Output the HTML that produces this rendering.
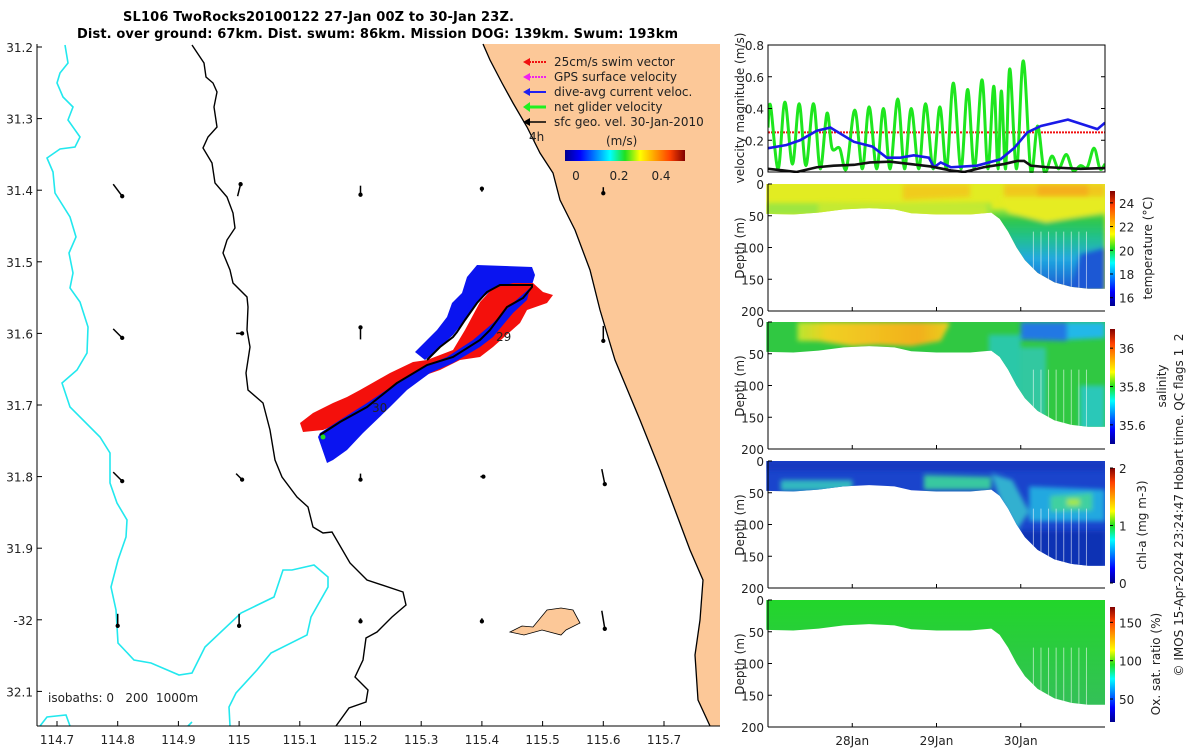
<!DOCTYPE html>
<html><head><meta charset="utf-8"><title>SL106 glider</title>
<style>
html,body{margin:0;padding:0;background:#fff;}
svg{display:block;font-family:"DejaVu Sans","Liberation Sans",sans-serif;}
.t{font-size:12px;fill:#222;}
text{white-space:pre;}
</style></head>
<body>
<svg id="root" width="1200" height="750" viewBox="0 0 1200 750" xmlns="http://www.w3.org/2000/svg">
<defs>
 <linearGradient id="jet" x1="0" x2="1" y1="0" y2="0">
  <stop offset="0" stop-color="#00008f"/><stop offset="0.125" stop-color="#0000ff"/><stop offset="0.375" stop-color="#00ffff"/><stop offset="0.5" stop-color="#20e020"/><stop offset="0.625" stop-color="#ffff00"/><stop offset="0.875" stop-color="#ff4000"/><stop offset="1" stop-color="#800000"/>
 </linearGradient>
 <linearGradient id="jetv" x1="0" x2="0" y1="1" y2="0">
  <stop offset="0" stop-color="#00008f"/><stop offset="0.125" stop-color="#0000ff"/><stop offset="0.375" stop-color="#00ffff"/><stop offset="0.5" stop-color="#20e020"/><stop offset="0.625" stop-color="#ffff00"/><stop offset="0.875" stop-color="#ff4000"/><stop offset="1" stop-color="#800000"/>
 </linearGradient>
 <linearGradient id="tdeep" x1="0" x2="0" y1="0" y2="1">
  <stop offset="0" stop-color="#9ee83a"/><stop offset="0.12" stop-color="#30c848"/><stop offset="0.35" stop-color="#20c090"/><stop offset="0.6" stop-color="#20a8e0"/><stop offset="1" stop-color="#1850d0"/>
 </linearGradient>
 <linearGradient id="sorange" x1="0" x2="1" y1="0" y2="0">
  <stop offset="0" stop-color="#b8e630"/><stop offset="0.2" stop-color="#f0d020"/><stop offset="0.5" stop-color="#f2c020"/><stop offset="0.8" stop-color="#f2b01c"/><stop offset="1" stop-color="#e8d020"/>
 </linearGradient>
 <linearGradient id="odeep" x1="0" x2="0" y1="0" y2="1">
  <stop offset="0" stop-color="#22d62a"/><stop offset="1" stop-color="#34c058"/>
 </linearGradient>
 <filter id="soft" x="-5%" y="-5%" width="110%" height="110%"><feGaussianBlur stdDeviation="2.5"/></filter>
 <clipPath id="velclip"><rect x="768" y="45" width="337" height="128"/></clipPath>
</defs>

<text x="123" y="21" font-size="13" font-weight="bold" textLength="391">SL106 TwoRocks20100122 27-Jan 00Z to 30-Jan 23Z.</text>
<text x="77" y="38" font-size="13" font-weight="bold" textLength="601">Dist. over ground: 67km. Dist. swum: 86km. Mission DOG: 139km. Swum: 193km</text>

<g id="map">
 <path fill="#fcc898" d="M483,44 L490,60 L502,83 L513,103 L527,127 L540,153 L553,173 L560,200 L575,230 L590,270 L600,310 L615,360 L640,420 L660,470 L675,510 L690,550 L703,580 L700,620 L695,655 L698,700 L710,726 L720,726 L720,44 Z"/>
 <path fill="none" stroke="#000" stroke-width="1.3" d="M483,44 L490,60 L502,83 L513,103 L527,127 L540,153 L553,173 L560,200 L575,230 L590,270 L600,310 L615,360 L640,420 L660,470 L675,510 L690,550 L703,580 L700,620 L695,655 L698,700 L710,726"/>
 <path fill="#fcc898" stroke="#000" stroke-width="0.8" d="M510,632 L522,626 L533,627 L547,610 L561,608 L573,610 L580,623 L566,630 L561,635 L542,630 L524,635 Z"/>
 <path fill="none" stroke="#000" stroke-width="1.4" d="M192,45 L204,63 L206,77 L213,83 L217,92 L214,107 L217,127 L208,137 L203,148 L212,163 L215,183 L227,197 L233,213 L235,228 L227,240 L223,253 L230,270 L233,283 L247,297 L248,307 L247,330 L250,347 L246,373 L248,390 L263,403 L270,430 L275,460 L282,477 L297,497 L308,507 L313,527 L323,533 L332,532 L350,563 L367,580 L403,592 L406,605 L392,617 L377,632 L366,638 L363,660 L355,677 L368,690 L366,702 L349,708 L336,726"/>
 <path fill="none" stroke="#22e8ee" stroke-width="1.6" d="M65,45 L68,63 L60,73 L57,83 L63,97 L73,107 L68,120 L80,137 L75,147 L60,149 L47,158 L53,172 L55,193 L70,217 L76,237 L69,253 L73,273 L70,288 L80,302 L88,327 L87,353 L77,370 L62,383 L70,407 L100,437 L110,453 L110,483 L117,503 L127,520 L126,537 L118,560 L111,587 L116,610 L118,643 L134,660 L151,663 L179,675 L192,673 L205,647 L241,613 L274,597 L283,570 L292,570 L314,565 L328,577 L328,587 L311,617 L307,635 L271,653 L257,670 L236,693 L229,707 L230,726"/>
 <path fill="none" stroke="#22e8ee" stroke-width="1.6" d="M40,726 L47,717 L66,715 L70,726 M188,726 L192,722"/>
 <g id="vectors" stroke="#000" stroke-width="1.5" fill="#000"></g>
 <path fill="#0a14f0" d="M415,352 L425,360 L437,350 L453,335 L465,320 L480,300 L493,289 L513,285 L532,285 L535,275 L532,267 L477,265 L467,277 L462,293 L452,303 L447,317 L437,330 L427,340 L420,347 Z"/>
 <path fill="#f4100c" d="M300,423 L313,413 L333,403 L347,397 L360,390 L390,373 L413,362 L427,360 L453,350 L465,330 L480,302 L493,288 L513,283 L533,283 L543,292 L553,295 L547,303 L527,310 L520,323 L493,347 L480,357 L460,360 L440,370 L420,377 L400,383 L390,393 L367,407 L347,420 L323,430 L303,432 Z"/>
 <path fill="#0a14f0" d="M318,437 L327,463 L333,460 L347,450 L363,433 L390,407 L407,390 L430,373 L453,363 L480,347 L493,337 L513,313 L527,300 L530,288 L513,303 L493,323 L473,340 L447,357 L427,365 L397,383 L367,403 L340,420 L320,433 Z"/>
 <path fill="none" stroke="#000" stroke-width="2" d="M320,435 L340,422 L367,407 L397,383 L427,365 L453,357 L480,340 L490,330 L507,307 L523,298 L532,287 L532,285 L500,285 L487,292 L477,303 L465,320 L457,332 L453,337 L440,347 L427,360"/>
 <circle cx="323" cy="437" r="2.5" fill="#20e020"/>
 <text class="t" x="496" y="341" font-size="13">29</text>
 <text class="t" x="372" y="412" font-size="13">30</text>
 <text class="t" x="529" y="141" font-size="13">4h</text>
 <line x1="37" y1="44" x2="37" y2="726" stroke="#000"/>
 <line x1="37" y1="726" x2="720" y2="726" stroke="#000"/>
 <g id="mapticks"></g>
 <text class="t" x="48" y="702" font-size="12.5">isobaths: 0   200  1000m</text>
 <g font-size="13">
  <line x1="526" y1="62" x2="546" y2="62" stroke="#f01010" stroke-width="2" stroke-dasharray="2,1"/><path d="M523,62 l7,-4 v8z" fill="#f01010"/>
  <text class="t" x="554" y="66" font-size="13">25cm/s swim vector</text>
  <line x1="526" y1="77" x2="546" y2="77" stroke="#f020f0" stroke-width="2" stroke-dasharray="2,1"/><path d="M523,77 l7,-4 v8z" fill="#f020f0"/>
  <text class="t" x="554" y="81" font-size="13">GPS surface velocity</text>
  <line x1="526" y1="92" x2="546" y2="92" stroke="#2020f0" stroke-width="2"/><path d="M523,92 l7,-4 v8z" fill="#2020f0"/>
  <text class="t" x="554" y="96" font-size="13">dive-avg current veloc.</text>
  <line x1="526" y1="107" x2="546" y2="107" stroke="#20f020" stroke-width="3"/><path d="M523,107 l7,-5 v10z" fill="#20f020"/>
  <text class="t" x="554" y="111" font-size="13">net glider velocity</text>
  <line x1="526" y1="122" x2="546" y2="122" stroke="#000" stroke-width="1.5"/><path d="M523,122 l7,-4 v8z" fill="#000"/>
  <text class="t" x="554" y="126" font-size="13">sfc geo. vel. 30-Jan-2010</text>
  <text class="t" x="606" y="145" font-size="15">(m/s)</text>
  <rect x="565" y="150" width="120" height="11" fill="url(#jet)"/>
  <text class="t" x="576" y="180" text-anchor="middle" font-size="13">0</text>
  <text class="t" x="619" y="180" text-anchor="middle" font-size="13">0.2</text>
  <text class="t" x="661" y="180" text-anchor="middle" font-size="13">0.4</text>
 </g>
</g>

<g id="vel"></g>
<text class="t" transform="translate(744,108) rotate(-90)" text-anchor="middle" font-size="12.5">velocity magnitude (m/s)</text>

<g id="sections"></g>

<text class="t" transform="translate(1183,505) rotate(-90)" text-anchor="middle" font-size="13">© IMOS 15-Apr-2024 23:24:47 Hobart time. QC flags 1  2</text>
</svg>

<script>
var NS="http://www.w3.org/2000/svg";
function mk(tag,attrs,parent){var e=document.createElementNS(NS,tag);for(var k in attrs)e.setAttribute(k,attrs[k]);parent.appendChild(e);return e;}

var lonTicks=[114.7,114.8,114.9,115,115.1,115.2,115.3,115.4,115.5,115.6,115.7];
var latTicks=[31.2,31.3,31.4,31.5,31.6,31.7,31.8,31.9,32,32.1];
var latLabels=["31.2","31.3","31.4","31.5","31.6","31.7","31.8","31.9","-32","32.1"];
function lonX(l){return 57+(l-114.7)*607;}
function latY(l){return 47+(l-31.2)*716;}
var mt=document.getElementById('mapticks');
lonTicks.forEach(function(l){
  var x=lonX(l);
  var tk=mk('line',{x1:x,y1:726,x2:x,y2:721,stroke:'#000'},mt);
  
  
  var t=mk('text',{x:x,y:744,'text-anchor':'middle','class':'t','font-size':'12.5'},mt);t.textContent=String(l);
  
  
});
latTicks.forEach(function(l,i){
  var y=latY(l);
  var tk=mk('line',{x1:37,y1:y,x2:42,y2:y,stroke:'#000'},mt);
  
  
  var t=mk('text',{x:33,y:y+5,'text-anchor':'end','class':'t','font-size':'12.5'},mt);t.textContent=latLabels[i];
  
  
});

var vecLon=[114.8,115.0,115.2,115.4,115.6, 114.8,115.0,115.2,115.4,115.6, 114.8,115.0,115.2,115.4,115.6, 114.8,115.0,115.2,115.4,115.6];
var vecLat=[31.4,31.4,31.4,31.4,31.4, 31.6,31.6,31.6,31.6,31.6, 31.8,31.8,31.8,31.8,31.8, 32.0,32.0,32.0,32.0,32.0];
var vecU=[3,1,0,0,0, 3,2,0,0,0, 3,2,0,1,1, 0,0,0,0,1];
var vecV=[4,-4,3,-1,2, 3,0,-4,0,5, 3,2,2,0,5, 4,4,1,1,6];
var vg=document.getElementById('vectors');
for(var i=0;i<vecLon.length;i++){
  var x=lonX(vecLon[i]),y=latY(vecLat[i]);
  var ln=mk('line',{x1:x-vecU[i]*1.5,y1:y-vecV[i]*1.5,x2:x+vecU[i]*1.5,y2:y+vecV[i]*1.5},vg);
  
  
  var c=mk('circle',{cx:x+vecU[i]*1.5,cy:y+vecV[i]*1.5,r:1.4},vg);
  
  
}

var velTicks=[0,0.2,0.4,0.6,0.8];
var greenT=[0,0.03,0.12,0.20,0.29,0.37,0.45,0.54,0.62,0.70,0.76,0.85,0.93,1.03,1.12,1.20,1.29,1.37,1.45,1.54,1.62,1.70,1.79,1.87,1.96,2.04,2.12,2.20,2.29,2.37,2.45,2.54,2.61,2.68,2.73,2.77,2.82,2.87,2.95,3.03,3.12,3.20,3.28,3.37,3.45,3.54,3.62,3.71,3.79,3.87,3.94,4.0];
var greenV=[0.28,0.42,0.02,0.44,0.05,0.43,0.04,0.43,0.02,0.37,0.15,0.15,0.02,0.39,0.02,0.41,0.02,0.40,0.02,0.46,0.02,0.40,0.02,0.43,0.02,0.41,0.02,0.56,0.02,0.52,0.02,0.58,0.02,0.54,0.02,0.51,0.02,0.65,0.02,0.70,0.0,0.29,0.0,0.10,0.02,0.11,0.01,0.04,0.03,0.15,0.02,0.05];
var blueT=[0,0.22,0.38,0.58,0.74,1.02,1.24,1.41,1.57,1.73,1.91,1.97,2.05,2.17,2.48,2.76,2.92,3.08,3.24,3.56,3.91,4.0];
var blueV=[0.15,0.17,0.20,0.26,0.28,0.19,0.16,0.09,0.09,0.105,0.09,0.03,0.06,0.03,0.04,0.08,0.15,0.25,0.29,0.33,0.27,0.31];
var blackT=[0,0.18,0.34,0.58,0.78,1.02,1.21,1.45,1.69,1.93,2.17,2.33,2.56,2.80,2.96,3.04,3.12,3.32,3.71,4.0];
var blackV=[0.02,0.01,0,0.03,0.04,0.045,0.06,0.065,0.05,0.035,0.01,0,0.03,0.05,0.07,0.07,0.04,0.03,0.02,0.025];
var swimT=[0,4];
var swimV=[0.25,0.25];
var VX0=768,VX1=1105,VY0=172,VY1=45;
function vx(d){return VX0+(d/4)*(VX1-VX0);}
function vy(v){return VY0-(v/0.8)*(VY0-VY1);}
var vel=document.getElementById('vel');
function smoothPath(T,V){
  var p=T.map(function(t,i){return [vx(t),vy(V[i])];});
  var d='M'+p[0][0]+','+p[0][1];
  for(var i=0;i<p.length-1;i++){
    var p0=p[i-1]||p[i],p1=p[i],p2=p[i+1],p3=p[i+2]||p2;
    var c1x=p1[0]+(p2[0]-p0[0])/6,c1y=p1[1]+(p2[1]-p0[1])/6;
    var c2x=p2[0]-(p3[0]-p1[0])/6,c2y=p2[1]-(p3[1]-p1[1])/6;
    d+=' C'+c1x+','+c1y+' '+c2x+','+c2y+' '+p2[0]+','+p2[1];
  }
  return d;
}
function linePath(T,V){return T.map(function(t,i){return (i?'L':'M')+vx(t)+','+vy(V[i]);}).join(' ');}
var sw=mk('path',{d:linePath(swimT,swimV),stroke:'#f01010','stroke-width':2,'stroke-dasharray':'2,1',fill:'none','clip-path':'url(#velclip)'},vel);


var gl=mk('path',{d:smoothPath(greenT,greenV),stroke:'#1ee61e','stroke-width':3,fill:'none','clip-path':'url(#velclip)'},vel);


var bl=mk('path',{d:linePath(blueT,blueV),stroke:'#1a1ae8','stroke-width':2.6,fill:'none','clip-path':'url(#velclip)'},vel);


var kl=mk('path',{d:linePath(blackT,blackV),stroke:'#111','stroke-width':2.6,fill:'none','clip-path':'url(#velclip)'},vel);


var fr=mk('rect',{x:VX0,y:VY1,width:VX1-VX0,height:VY0-VY1,fill:'none',stroke:'#000'},vel);


velTicks.forEach(function(v){
  var y=vy(v);
  mk('line',{x1:VX0,y1:y,x2:VX0+4,y2:y,stroke:'#000'},vel);
  mk('line',{x1:VX1,y1:y,x2:VX1-4,y2:y,stroke:'#000'},vel);
  var t=mk('text',{x:VX0-4,y:y+5,'text-anchor':'end','class':'t','font-size':'12.5'},vel);t.textContent=String(v);
  
  
});

var depthTicks=[0,50,100,150,200];
var dateTicks=[1,2,3];
var dateLabels=["28Jan","29Jan","30Jan"];
var bottomT=[-0.02,0.3,0.6,0.9,1.2,1.5,1.7,2.0,2.4,2.65,2.75,2.85,2.95,3.05,3.2,3.4,3.6,3.8,4.0];
var bottomD=[47,48,45,40,38,40,46,48,48,45,55,75,100,120,140,155,162,165,165];
var panelTop=[184,322,461,600];
var SX0=768,SX1=1105;
function sx(d){return SX0+(d/4)*(SX1-SX0);}
var sec=document.getElementById('sections');
function polyPts(y0,pts){return pts.map(function(p){return sx(p[0])+','+(y0+p[1]*127/200);}).join(' ');}
function profilePts(y0){
  var a=[[-0.02,0],[4.0,0]];
  for(var i=bottomT.length-1;i>=0;i--)a.push([bottomT[i],bottomD[i]]);
  return polyPts(y0,a);
}
var panels=[
 {name:'temperature',label:'temperature (°C)',cbTicks:[16,18,20,22,24],cbMin:15.3,cbMax:25,lx:1152,base:'#e2ec22',
  layers:[
   {c:'#9ee640',p:[[-0.02,30],[2.65,30],[2.65,50],[-0.02,50]]},
   {c:'#c4ea30',p:[[0.6,28],[2.6,32],[2.6,50],[0.6,50]]},
   {c:'#f0cc1e',p:[[1.6,0],[2.4,0],[2.4,20],[1.6,25]]},
   {c:'url(#tdeep)',p:[[2.65,40],[4.0,40],[4.0,170],[2.65,170]]},
   {c:'#f0c81e',p:[[2.8,0],[4.0,0],[4.0,20],[2.8,20]]},
   {c:'#f4b01c',p:[[3.2,0],[3.8,0],[3.8,30],[3.2,30]]},
   {c:'#e6ec22',p:[[2.75,20],[4.0,20],[4.0,45],[3.3,60],[2.85,45]]},
   {c:'#1c58d4',p:[[3.7,110],[4.0,100],[4.0,170],[3.6,170]]}
  ]},
 {name:'salinity',label:'salinity',cbTicks:[35.6,35.8,36],cbMin:35.5,cbMax:36.1,lx:1166,base:'#30c842',
  layers:[
   {c:'url(#sorange)',p:[[0.35,0],[2.15,0],[2.15,5],[2.05,30],[1.7,38],[1.3,36],[1.0,38],[0.6,30],[0.35,30]]},
   {c:'#2cc8a8',p:[[2.62,20],[3.0,20],[3.0,170],[2.62,170]]},
   {c:'#30c8a0',p:[[3.0,40],[3.3,40],[3.3,170],[3.0,170]]},
   {c:'#2078e4',p:[[3.0,0],[3.55,0],[3.55,30],[3.0,28]]},
   {c:'#22b8e8',p:[[3.55,0],[4.0,0],[4.0,25],[3.55,28]]},
   {c:'#2cc8b8',p:[[3.7,100],[4.0,100],[4.0,170],[3.7,170]]}
  ]},
 {name:'chl-a',label:'chl-a (mg m-3)',cbTicks:[0,1,2],cbMin:0,cbMax:2,lx:1146,base:'#1a44cc',
  layers:[
   {c:'#1438c0',p:[[-0.02,0],[4,0],[4,15],[-0.02,15]]},
   {c:'#30b8c0',p:[[0.15,30],[1.0,30],[1.0,47],[0.15,47]]},
   {c:'#38c8a0',p:[[1.85,22],[2.65,25],[2.65,45],[1.85,45]]},
   {c:'#30b0d0',p:[[2.65,20],[2.9,30],[3.1,80],[2.95,110],[2.75,60]]},
   {c:'#22a8e0',p:[[3.1,40],[4.0,45],[4.0,95],[3.1,95]]},
   {c:'#40d0a0',p:[[3.35,55],[3.85,50],[3.85,78],[3.35,80]]},
   {c:'#a8e840',p:[[3.55,60],[3.7,60],[3.7,70],[3.55,70]]},
   {c:'#1030b4',p:[[2.9,110],[4.0,110],[4.0,170],[2.9,170]]}
  ]},
 {name:'oxygen',label:'Ox. sat. ratio (%)',cbTicks:[50,100,150],cbMin:20,cbMax:170,lx:1160,base:'url(#odeep)',layers:[]}
];
var defs=document.querySelector('defs');
panels.forEach(function(P,k){
  var y0=panelTop[k];
  var g=mk('g',{},sec);
  
  
  var cid='clip'+k;
  var cp=mk('clipPath',{id:cid},defs);
  mk('polygon',{points:profilePts(y0)},cp);
  var base=mk('polygon',{points:profilePts(y0),fill:P.base},g);
  
  
  var lg=mk('g',{'clip-path':'url(#'+cid+')'},g);
  var lb=mk('g',{filter:'url(#soft)'},lg);
  P.layers.forEach(function(L){
    var pl=mk('polygon',{points:polyPts(y0,L.p),fill:L.c},lb);
    
    
  });
  for(var d=3.15;d<3.8;d+=0.09){
    mk('line',{x1:sx(d),y1:y0+75*0.635,x2:sx(d),y2:y0+170*0.635,stroke:'#fff','stroke-width':1,'stroke-opacity':0.55},lg);
  }
  var ax=mk('line',{x1:SX0,y1:y0,x2:SX0,y2:y0+127,stroke:'#000'},g);
  
  
  var bx=mk('line',{x1:SX0,y1:y0+127,x2:SX1,y2:y0+127,stroke:'#000'},g);
  
  
  depthTicks.forEach(function(dv){
    var y=y0+dv*127/200;
    mk('line',{x1:SX0,y1:y,x2:SX0+4,y2:y,stroke:'#000'},g);
    var t=mk('text',{x:SX0-4,y:y+5,'text-anchor':'end','class':'t','font-size':'12.5'},g);t.textContent=String(dv);
    
    
  });
  dateTicks.forEach(function(dd){
    mk('line',{x1:sx(dd),y1:y0+127,x2:sx(dd),y2:y0+123,stroke:'#000'},g);
  });
  var yt=mk('text',{transform:'translate(744,'+(y0+64)+') rotate(-90)','text-anchor':'middle','class':'t','font-size':'12.5'},g);
  yt.textContent='Depth (m)';
  
  
  var cbTop=y0+7,cbBot=y0+122;
  var cb=mk('rect',{x:1110,y:cbTop,width:5,height:cbBot-cbTop,fill:'url(#jetv)'},g);
  
  
  P.cbTicks.forEach(function(v){
    var y=cbBot-(v-P.cbMin)/(P.cbMax-P.cbMin)*(cbBot-cbTop);
    mk('line',{x1:1110,y1:y,x2:1113,y2:y,stroke:'#000'},g);
    var t=mk('text',{x:1119,y:y+5,'class':'t','font-size':'13'},g);t.textContent=String(v);
    
    
  });
  var cl=mk('text',{transform:'translate('+P.lx+','+(y0+64)+') rotate(-90)','text-anchor':'middle','class':'t','font-size':'14'},g);
  cl.textContent=P.label;
  
  
});
dateTicks.forEach(function(dd,i){
  var t=mk('text',{x:sx(dd),y:745,'text-anchor':'middle','class':'t','font-size':'12'},sec);
  t.textContent=dateLabels[i];
  
  
});
</script>
</body></html>
